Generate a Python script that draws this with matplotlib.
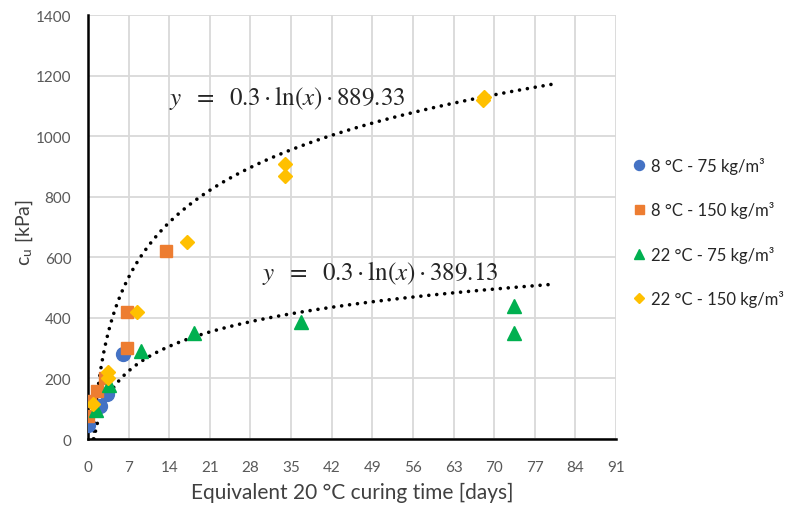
"""
Undrained shear strength against equivalent curing time, with log trendlines
"""

import numpy as np
import matplotlib
matplotlib.use('Agg')
import matplotlib.pyplot as plt

plt.rcParams['font.family'] = ['Lato', 'DejaVu Sans']
plt.rcParams['mathtext.fontset'] = 'stix'

# Series (x in days, y in kPa)
blue_x = [0.0, 2.0, 3.2, 6.1]
blue_y = [45, 110, 150, 280]

orange_x = [0.0, 0.3, 1.5, 3.0, 6.7, 6.7, 13.4]
orange_y = [75, 125, 160, 200, 300, 420, 620]

green_x = [1.3, 3.6, 9.1, 18.3, 36.7, 73.5, 73.5]
green_y = [95, 180, 290, 350, 387, 440, 350]

yellow_x = [0.8, 3.5, 3.5, 8.4, 17.0, 34.0, 34.0, 68.0, 68.2]
yellow_y = [115, 200, 222, 418, 649, 907, 869, 1118, 1128]

labels = ['8 °C - 75 kg/m³', '8 °C - 150 kg/m³',
          '22 °C - 75 kg/m³', '22 °C - 150 kg/m³']

# Log trendlines y = a*ln(x) + b, as drawn in the chart
trend_a = [261.7, 117.5]
trend_b = [24.7, -4.1]
trend_end = 80.2
trend_text = [r'$y\ \ =\ \ 0.3\cdot\mathrm{ln}(x)\cdot889.33$',
              r'$y\ \ =\ \ 0.3\cdot\mathrm{ln}(x)\cdot389.13$']
trend_text_pos = [(14.0, 1130), (30.0, 551)]

fig = plt.figure(figsize=(7.92, 5.06), dpi=100)
ax = fig.add_axes([0.1111, 0.1304, 0.6667, 0.8379])

# Trendlines
for a, b in zip(trend_a, trend_b):
    x_start = np.exp(-b / a)
    xs = np.linspace(x_start, trend_end, 400)
    ax.plot(xs, a * np.log(xs) + b, color='black', linewidth=2.6,
            linestyle=(0, (0.01, 2.2)), dash_capstyle='round', zorder=2)

# Scatter series
ms = 9
ax.plot(blue_x, blue_y, 'o', color='#4472C4', markersize=ms + 1, label=labels[0], zorder=3)
ax.plot(orange_x, orange_y, 's', color='#ED7D31', markersize=ms, label=labels[1], zorder=3)
ax.plot(green_x, green_y, '^', color='#00B050', markersize=ms + 0.5, label=labels[2], zorder=3)
ax.plot(yellow_x, yellow_y, 'D', color='#FFC000', markersize=ms - 1.5, label=labels[3], zorder=3)

# Equations
for txt, (tx, ty) in zip(trend_text, trend_text_pos):
    ax.text(tx, ty, txt, fontsize=18, color='#262626', ha='left', va='center', zorder=4)

# Axes styling
ax.set_xlim(0, 91)
ax.set_ylim(0, 1400)
ax.set_xticks(np.arange(0, 92, 7))
ax.set_yticks(np.arange(0, 1401, 200))
ax.grid(True, color='#D9D9D9', linewidth=1.3)
ax.set_axisbelow(True)
for side in ['top', 'right']:
    ax.spines[side].set_visible(False)
for side in ['left', 'bottom']:
    ax.spines[side].set_linewidth(1.8)
    ax.spines[side].set_color('black')
ax.tick_params(axis='x', length=0, labelsize=11, labelcolor='#595959', pad=15)
ax.tick_params(axis='y', length=0, labelsize=11, labelcolor='#595959', pad=12)

ax.set_xlabel('Equivalent 20 °C curing time [days]', fontsize=15, color='#404040', labelpad=6)
fig.text(0.030, 0.5395, r'c$_\mathregular{u}$ [kPa]', fontsize=14, color='#404040',
         rotation=90, ha='center', va='center')

ax.legend(loc='center left', bbox_to_anchor=(0.781, 0.54), bbox_transform=fig.transFigure,
          frameon=False, fontsize=12, labelspacing=1.65, handlelength=0.6,
          handletextpad=0.45, markerscale=0.72, labelcolor='#262626')

plt.savefig('out.png', dpi=100)
